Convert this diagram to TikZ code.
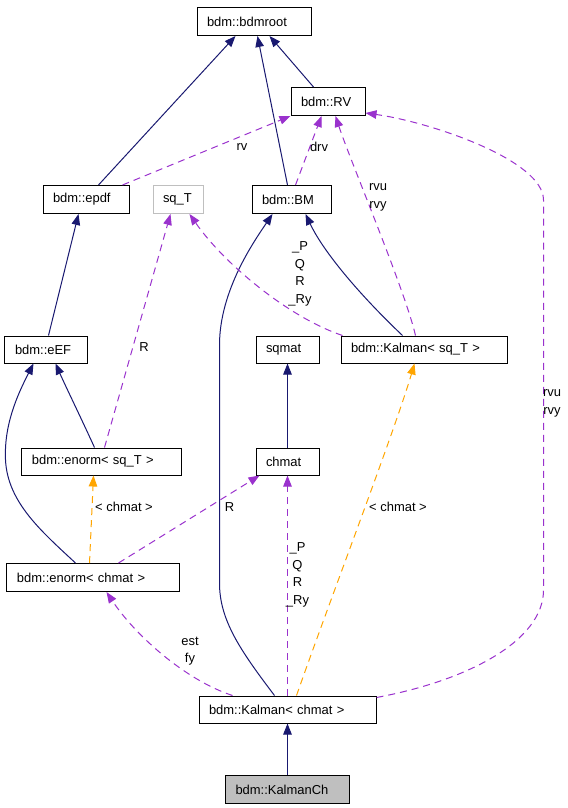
\documentclass[tikz,border=0pt]{standalone}
\usepackage{fontspec}
\setmainfont{Liberation Sans}
\usetikzlibrary{arrows.meta}
\definecolor{navy}{HTML}{191970}
\definecolor{orch}{HTML}{9A32CD}
\definecolor{orng}{HTML}{FFA500}
\definecolor{gbox}{HTML}{BFBFBF}
\begin{document}
\begin{tikzpicture}[x=1bp,y=-1bp,
  every node/.style={font=\fontsize{13}{17.5}\selectfont, text=black},
  cls/.style={draw=black, line width=1bp, inner xsep=10bp, inner ysep=0pt,
    align=left, minimum height=28bp},
  inh/.style={draw=navy, line width=1bp, {-{Triangle[length=11bp,width=8.5bp,fill=navy]}}},
  use/.style={draw=orch, line width=1bp, dash pattern=on 7bp off 5bp, {-{Triangle[length=11bp,width=8.5bp,fill=orch]}}},
  tmpl/.style={draw=orng, line width=1bp, dash pattern=on 7bp off 5bp, {-{Triangle[length=11bp,width=8.5bp,fill=orng]}}},
  lbl/.style={align=center, inner sep=0pt}]
\path[use as bounding box] (0,0) rectangle (568,808);
% classes
\node[cls, text width=94bp] (bdmroot) at (254,21.5) {bdm::bdmroot};
\node[cls, text width=54bp] (RV) at (328,101.5) {bdm::RV};
\node[cls, text width=66bp] (epdf) at (86,199.5) {bdm::epdf};
\node[cls, draw=gbox, text width=30bp] (sqT) at (178,199.5) {sq\_T};
\node[cls, text width=59bp] (BM) at (291.5,199.5) {bdm::BM};
\node[cls, text width=62bp, minimum height=27bp] (eEF) at (46,349.5) {bdm::eEF};
\node[cls, text width=43bp, minimum height=27bp] (sqmat) at (287.5,349.5) {sqmat};
\node[cls, text width=146bp, minimum height=27bp] (KsqT) at (424,349.5) {bdm::Kalman< sq\_T >};
\node[cls, text width=139bp, minimum height=27bp] (enormsqT) at (101.5,461.5) {bdm::enorm< sq\_T >};
\node[cls, text width=43bp, minimum height=27bp] (chmat) at (287.5,461.5) {chmat};
\node[cls, text width=152bp] (enormch) at (93,577.5) {bdm::enorm< chmat >};
\node[cls, text width=157bp, minimum height=27bp] (Kch) at (287.5,709.5) {bdm::Kalman< chmat >};
\node[cls, fill=gbox, text width=104bp] (KCh) at (287.5,789.5) {bdm::KalmanCh};
% inheritance
\draw[inh] ([xshift=56bp]epdf.north west) -- ([xshift=39bp]bdmroot.south west);
\draw[inh] ([xshift=36bp]BM.north west) -- ([xshift=61bp]bdmroot.south west);
\draw[inh] ([xshift=23bp]RV.north west) -- ([xshift=73bp]bdmroot.south west);
\draw[inh] ([xshift=44bp]eEF.north west) -- ([xshift=36bp]epdf.south west);
\draw[inh] ([xshift=73bp]enormsqT.north west) .. controls (82,420) and (65,385) .. ([xshift=51bp]eEF.south west);
\draw[inh] ([xshift=69bp]enormch.north west) .. controls (40,530) and (5,500) .. (5.4,455)
   .. controls (5,420) and (20,390) .. ([xshift=29bp]eEF.south west);
\draw[inh] ([xshift=62bp]KsqT.north west) .. controls (365,300) and (325,255) .. ([xshift=54bp]BM.south west);
\draw[inh] ([xshift=76bp]Kch.north west) .. controls (240,650) and (219.5,620) .. (219.5,583)
   -- (219.5,345) .. controls (219.5,290) and (255,240) .. ([xshift=21bp]BM.south west);
\draw[inh] (chmat.north) -- (sqmat.south);
\draw[inh] (KCh.north) -- (Kch.south);
% usage
\draw[use] ([xshift=80bp]epdf.north west) -- (RV.south west);
\draw[use] ([xshift=44bp]BM.north west) -- ([xshift=31bp]RV.south west);
\draw[use] ([xshift=75bp]KsqT.north west) .. controls (405,290) and (350,160) .. ([xshift=45bp]RV.south west);
\draw[use] ([yshift=-2bp]Kch.north east) .. controls (470,680) and (543.5,640) .. (543.5,590)
   -- (543.5,200) .. controls (543.5,160) and (430,122) .. ([yshift=3bp]RV.south east);
\draw[use] ([xshift=83bp]enormsqT.north west) -- ([xshift=18bp]sqT.south west);
\draw[use] ([xshift=2bp]KsqT.north west) .. controls (290,318) and (225,265) .. ([xshift=37bp]sqT.south west);
\draw[use] ([xshift=112bp]enormch.north west) -- ([xshift=4bp]chmat.south west);
\draw[use] (Kch.north) -- (chmat.south);
\draw[use] ([xshift=34bp]Kch.north west) .. controls (185,680) and (135,635) .. ([xshift=100bp]enormch.south west);
% template instances
\draw[tmpl] ([xshift=83bp]enormch.north west) -- ([xshift=72bp]enormsqT.south west);
\draw[tmpl] ([xshift=98bp]Kch.north west) .. controls (330,600) and (395,430) .. ([xshift=74bp]KsqT.south west);
% labels
\node[lbl] (l1) at (242,147) {rv};
\node[lbl] (l2) at (319,147) {drv};
\node[lbl] (l3) at (378,197.5) {rvu\\rvy};
\node[lbl] (l4) at (552,403.5) {rvu\\rvy};
\node[lbl] (l5) at (300,274) {\_P\\Q\\R\\\_Ry};
\node[lbl] (l6) at (144,347) {R};
\node[lbl] (l7) at (124,507) {< chmat >};
\node[lbl] (l8) at (229.5,507) {R};
\node[lbl] (l9) at (297.5,575) {\_P\\Q\\R\\\_Ry};
\node[lbl] (l10) at (398,507) {< chmat >};
\node[lbl] (l11) at (190,651) {est\\fy};
\end{tikzpicture}
\end{document}
